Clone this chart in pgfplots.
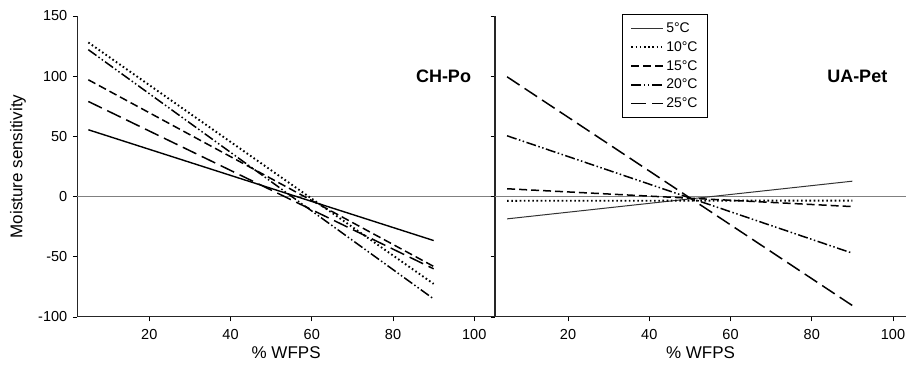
\documentclass[border=0pt]{standalone}
\usepackage{fontspec}
\setmainfont{Liberation Sans}
\usepackage{pgfplots}
\usepackage{pgfplotstable}
\pgfplotsset{compat=1.18}

\pgfplotstableread{
x c5 c10 c15 c20 c25
5 55.5 128 97 122 79
90 -36.5 -72.5 -58 -85 -60
}\chpo

\pgfplotstableread{
x c5 c10 c15 c20 c25
5 -18.5 -3.5 6.5 50.5 99.5
90 12.8 -3.3 -8.3 -47 -90.5
}\uapet

\pgfplotsset{
  s5/.style={black, line width=1.4pt, solid},
  s10/.style={black, line width=1.9pt, dash pattern=on 1.6pt off 2.6pt},
  s15/.style={black, line width=1.5pt, dash pattern=on 8pt off 4pt},
  s20/.style={black, line width=1.5pt, dash pattern=on 10pt off 2.5pt on 1.5pt off 2.5pt on 1.5pt off 2.5pt},
  s25/.style={black, line width=1.5pt, dash pattern=on 15pt off 6pt},
  s5r/.style={black!80, line width=1.0pt, solid},
  common/.style={
    scale only axis,
    height=301pt,
    ymin=-100, ymax=150,
    ytick={-100,-50,0,50,100,150},
    xtick={20,40,60,80,100},
    axis x line=bottom,
    axis y line=left,
    axis line style={-, line width=1pt, black!85},
    tick align=outside,
    major tick length=4.5pt,
    tick style={black, line width=0.9pt},
    /pgf/number format/assume math mode=true,
    tick label style={font=\fontsize{14.5}{16}\selectfont},
    xticklabel style={yshift=-4pt},
    yticklabel style={xshift=-2pt},
    label style={font=\fontsize{17}{19}\selectfont},
    extra y ticks={0},
    extra y tick labels={},
    extra y tick style={grid=major, major grid style={gray, line width=0.8pt}, major tick length=0pt},
    clip=false,
  },
}

\begin{document}
\begin{tikzpicture}
\useasboundingbox (0pt,0pt) rectangle (906pt,371pt);
\begin{axis}[common,
  at={(77.3pt,54pt)}, anchor=south west,
  width=417.7pt,
  xmin=2.28, xmax=105.1,
  xlabel={\% WFPS},
  xlabel style={at={(axis description cs:0.5,-0.117)}, anchor=center},
  ylabel={Moisture sensitivity},
  ylabel style={at={(axis description cs:-0.142,0.5)}, anchor=center},
]
\addplot[s5]  table[x=x,y=c5]  {\chpo};
\addplot[s10] table[x=x,y=c10] {\chpo};
\addplot[s15] table[x=x,y=c15] {\chpo};
\addplot[s20] table[x=x,y=c20] {\chpo};
\addplot[s25] table[x=x,y=c25] {\chpo};
\node[anchor=east, font=\bfseries\fontsize{18}{20}\selectfont] at (axis description cs:0.951,0.8) {CH-Po};
\end{axis}
\begin{axis}[common,
  at={(495pt,54pt)}, anchor=south west,
  width=411pt,
  xmin=2.03, xmax=103.2,
  yticklabels={},
  y axis line style={line width=2pt},
  xlabel={\% WFPS},
  xlabel style={at={(axis description cs:0.5,-0.117)}, anchor=center},
  legend style={at={(0.309,1.006)}, anchor=north west, draw=black, line width=0.8pt,
    inner xsep=8pt, inner ysep=6pt, row sep=3.6pt,
    font=\fontsize{14}{16}\selectfont, cells={anchor=west}},
  legend image code/.code={\draw[#1] (0pt,0pt) -- (32pt,0pt);},
]
\addplot[s5r] table[x=x,y=c5]  {\uapet};
\addplot[s10] table[x=x,y=c10] {\uapet};
\addplot[s15] table[x=x,y=c15] {\uapet};
\addplot[s20] table[x=x,y=c20] {\uapet};
\addplot[s25] table[x=x,y=c25] {\uapet};
\legend{5°C,10°C,15°C,20°C,25°C}
\node[anchor=east, font=\bfseries\fontsize{18}{20}\selectfont] at (axis description cs:0.963,0.8) {UA-Pet};
\end{axis}
\end{tikzpicture}
\end{document}
